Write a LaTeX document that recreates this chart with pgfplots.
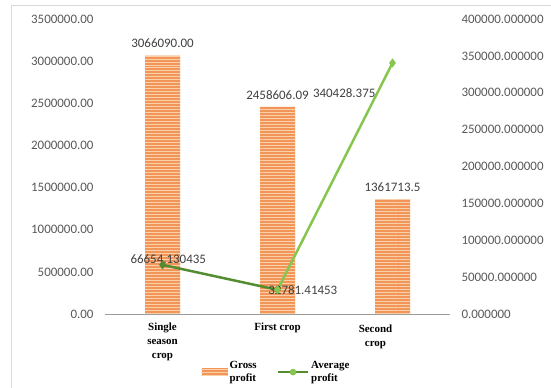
\documentclass[border=0pt]{standalone}
\usepackage{fontspec}
\setmainfont{Carlito}
\newfontfamily\tnr{Liberation Serif}
\usepackage{pgfplots}
\usepackage{pgfplotstable}
\pgfplotsset{compat=1.18}
\usetikzlibrary{patterns}
\definecolor{barorange}{RGB}{241,150,88}
\definecolor{barlight}{RGB}{250,208,170}
\definecolor{gdark}{RGB}{84,140,50}
\definecolor{glight}{RGB}{135,198,78}
\definecolor{tickgray}{RGB}{89,89,89}
\definecolor{lblgray}{RGB}{64,64,64}
\definecolor{framegray}{RGB}{217,217,217}
\pgfplotstableread{
x y label
0 3066090 3066090.00
1 2458606.09 2458606.09
2 1361713.5 1361713.5
}\gross
\pgfplotstableread{
x y
0 66654.130435
1 32781.41453
}\avgA
\pgfplotstableread{
x y
1 32781.41453
2 340428.375
}\avgB
\begin{document}
\begin{tikzpicture}
\useasboundingbox (0,0) rectangle (551bp,388bp);
\draw[framegray, line width=0.8bp] (11bp,0) -- (11bp,383bp) -- (551bp,383bp);
\begin{axis}[
  at={(105bp,74bp)}, anchor=south west,
  scale only axis, width=345bp, height=295bp,
  xmin=-0.5, xmax=2.5, ymin=0, ymax=3500000,
  scaled ticks=false,
  axis x line*=bottom, axis y line*=left,
  x axis line style={draw=tickgray!60, line width=1bp, -},
  y axis line style={draw=none},
  major tick length=0,
  xtick={0,1,2},
  xticklabels={{Single\\season\\crop},{First crop},{\begin{tabular}{@{}c@{}}Second\\crop\end{tabular}\hspace*{34bp}}},
  xticklabel style={font=\tnr\bfseries\fontsize{11}{14}\selectfont, align=center, anchor=north, yshift=-5bp},
  ytick={0,500000,1000000,1500000,2000000,2500000,3000000,3500000},
  yticklabels={0.00,500000.00,1000000.00,1500000.00,2000000.00,2500000.00,3000000.00,3500000.00},
  yticklabel style={font=\fontsize{13}{15}\selectfont, text=tickgray, anchor=east, xshift=-8bp},
  legend style={at={(0.497,-0.197)}, anchor=center, draw=none, fill=none,
    legend columns=2, font=\tnr\bfseries\fontsize{11}{13}\selectfont,
    cells={align=left, anchor=west}, /tikz/every even column/.append style={column sep=18bp}},
]
\addplot[ybar, bar width=35bp, draw=none, fill=barorange,
  postaction={pattern=horizontal lines, pattern color=barlight},
  nodes near coords, point meta=explicit symbolic,
  every node near coord/.append style={font=\fontsize{13}{15}\selectfont, text=lblgray, yshift=4bp},
  legend image code/.code={\fill[barorange] (0bp,-4bp) rectangle (26bp,4bp);
     \fill[pattern=horizontal lines, pattern color=barlight] (0bp,-4bp) rectangle (26bp,4bp);}
] table[x=x, y=y, meta=label] {\gross};
\addlegendentry{Gross\\profit}
\addlegendimage{gdark, line width=2.5bp, mark=diamond*, mark size=2bp,
  legend image code/.code={\draw[gdark, line width=2.5bp] (0bp,0) -- (30bp,0); \fill[glight] (15bp,0) circle (2bp);}}
\addlegendentry{Average\\profit}
\end{axis}
\begin{axis}[
  at={(105bp,74bp)}, anchor=south west,
  scale only axis, width=345bp, height=295bp,
  xmin=-0.5, xmax=2.5, ymin=0, ymax=400000,
  scaled ticks=false,
  hide x axis, axis y line*=right,
  y axis line style={draw=none},
  major tick length=0,
  ytick={0,50000,100000,150000,200000,250000,300000,350000,400000},
  yticklabels={0.000000,50000.000000,100000.000000,150000.000000,200000.000000,250000.000000,300000.000000,350000.000000,400000.000000},
  yticklabel style={font=\fontsize{13}{15}\selectfont, text=tickgray, anchor=west, xshift=8bp},
]
\addplot[gdark, line width=2.5bp, mark=diamond*, mark size=2.5bp, mark options={fill=gdark}] table[x=x,y=y] {\avgA};
\addplot[glight, line width=2.5bp, mark=diamond*, mark size=2.5bp, mark options={fill=gdark}] table[x=x,y=y] {\avgB};
\node[font=\fontsize{13}{15}\selectfont, text=lblgray] at (axis cs:0.05,74000) {66654.130435};
\node[font=\fontsize{13}{15}\selectfont, text=lblgray, anchor=west] at (axis cs:0.89,32781) {32781.41453};
\node[font=\fontsize{13}{15}\selectfont, text=lblgray] at (axis cs:1.58,300000) {340428.375};
\end{axis}
\end{tikzpicture}
\end{document}
